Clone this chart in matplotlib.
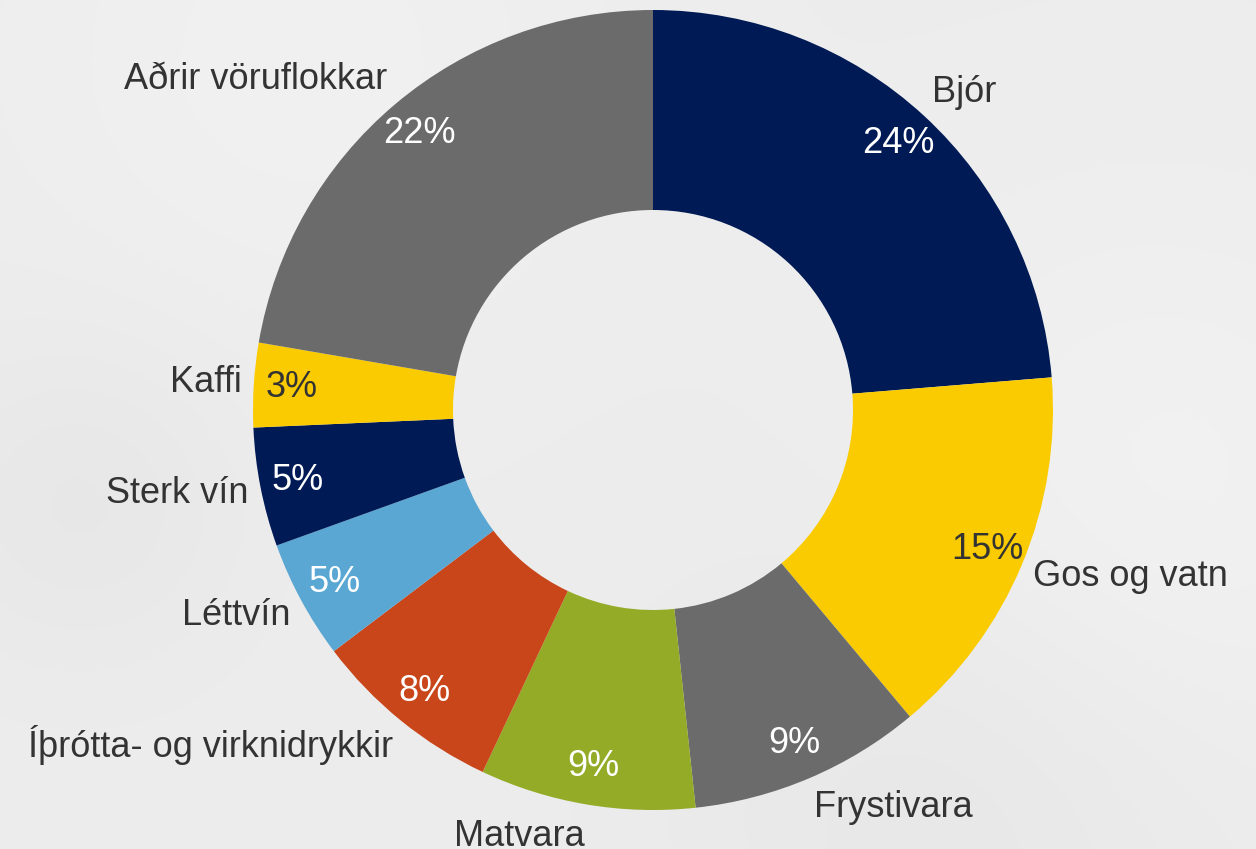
import numpy as np
import matplotlib
matplotlib.use("Agg")
import matplotlib.pyplot as plt

# ---- data ----
categories = ["Bjór", "Gos og vatn", "Frystivara", "Matvara",
              "Íþrótta- og virknidrykkir", "Léttvín", "Sterk vín", "Kaffi",
              "Aðrir vöruflokkar"]
shares = [23.7, 15.2, 9.4, 8.7, 7.7, 4.8, 4.8, 3.4, 22.3]
colors = ["#001a55", "#facb00", "#6a6b6a", "#93ab26", "#c84619",
          "#5aa7d3", "#001a55", "#facb00", "#6a6b6a"]
pct_colors = ["white", "#333333", "white", "white", "white",
              "white", "white", "#333333", "white"]

W, H = 1256, 849
fig = plt.figure(figsize=(W / 100, H / 100), dpi=100)
fig.patch.set_facecolor("#eaeaea")
ax = fig.add_axes([0, 0, 1, 1])
ax.set_xlim(0, W)
ax.set_ylim(0, H)
ax.set_aspect("equal")
ax.axis("off")

# soft background shading (decorative)
yy, xx = np.mgrid[0:H:4, 0:W:4]
bg = 0.925 - 0.02 * np.exp(-((xx - 80) ** 2 + (yy - 500) ** 2) / (2 * 120 ** 2)) \
     - 0.02 * np.exp(-((xx - 950) ** 2 + (yy - 800) ** 2) / (2 * 200 ** 2)) \
     + 0.02 * np.exp(-((xx - 1150) ** 2 + (yy - 500) ** 2) / (2 * 200 ** 2)) \
     + 0.015 * np.exp(-((xx - 300) ** 2 + (yy - 60) ** 2) / (2 * 200 ** 2))
ax.imshow(bg, extent=[0, W, 0, H], cmap="gray", vmin=0, vmax=1,
          origin="upper", zorder=0, interpolation="bilinear")

cx, cy, R = 653, H - 410, 400
wedges, _ = ax.pie(shares, colors=colors, startangle=90, counterclock=False,
                   radius=R, center=(cx, cy),
                   wedgeprops=dict(width=R * 0.5, linewidth=0))
for w in wedges:
    w.set_zorder(2)
ax.set_xlim(0, W)
ax.set_ylim(0, H)

font = ["Liberation Sans", "DejaVu Sans"]
total = sum(shares)
cum = 0.0
for cat, v, pc in zip(categories, shares, pct_colors):
    mid = (cum + v / 2) / total * 2 * np.pi  # clockwise from top
    cum += v
    s, c = np.sin(mid), np.cos(mid)
    # percentage label inside ring
    rp = 0.905 * R
    ax.text(cx + rp * s, cy + rp * c, f"{round(v / total * 100):.0f}%",
            ha="center", va="center", fontsize=26, color=pc,
            family=font, zorder=3)
    # category label outside
    lx = cx + 1.03 * R * s
    ly = cy + 1.08 * R * c
    ax.text(lx, ly, cat, ha="left" if s > 0 else "right", va="center",
            fontsize=26, color="#333333", family=font, zorder=3)

fig.savefig("out.png", dpi=100, facecolor=fig.get_facecolor())
